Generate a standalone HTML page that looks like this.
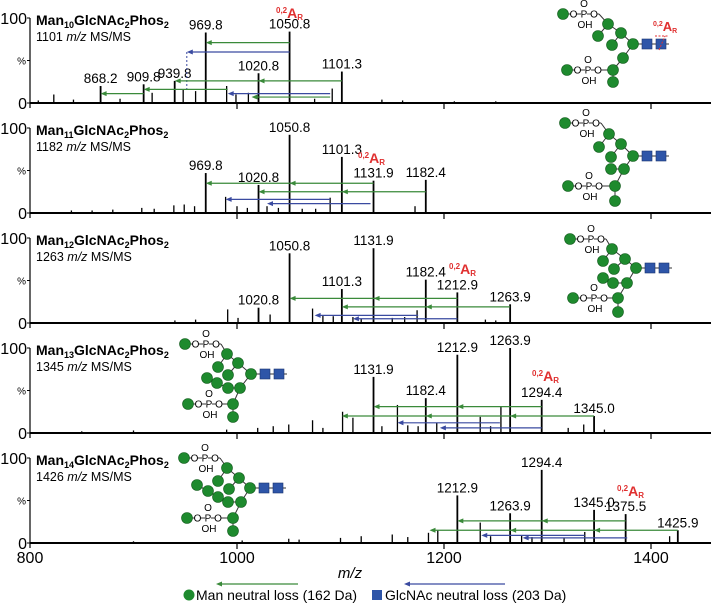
<!DOCTYPE html>
<html><head><meta charset="utf-8">
<style>
html,body{margin:0;padding:0;background:#fff;}
svg{display:block;font-family:"Liberation Sans",sans-serif;}
</style></head>
<body>
<svg id="chart" width="711" height="604" viewBox="0 0 711 604" xmlns="http://www.w3.org/2000/svg"></svg>
<script>
// ---- data ----
const panelTitles = ["10","11","12","13","14"];
const precursorLabels = ["1101","1182","1263","1345","1426"];
const xTickValues = [800, 1000, 1200, 1400];
const xTickLabels = ["800","1000","1200","1400"];
// labelled peaks: [m/z, relative intensity %]
const majorPeaks1 = [[868.2,20],[909.8,22],[939.8,26],[969.8,83],[1020.8,35],[1050.8,84],[1101.3,37]];
const majorPeaks2 = [[969.8,47],[1020.8,33],[1050.8,92],[1101.3,66],[1131.9,38],[1182.4,39]];
const majorPeaks3 = [[1020.8,18],[1050.8,82],[1101.3,40],[1131.9,88],[1182.4,51],[1212.9,36],[1263.9,22]];
const majorPeaks4 = [[1131.9,66],[1182.4,41],[1212.9,92],[1263.9,100],[1294.4,39],[1345.0,20]];
const majorPeaks5 = [[1212.9,56],[1263.9,35],[1294.4,86],[1345.0,39],[1375.5,34],[1425.9,15]];
// unlabelled peaks
const minorPeaks1 = [[808,3],[823,10],[842,4],[887,5],[918,12],[948,16],[960,14],[990,20],[999,10],[1011,12],[1092,17],[1075,5],[1140,4],[1160,3],[1210,2],[1250,2]];
const minorPeaks2 = [[840,3],[860,3],[880,4],[908,6],[920,5],[939,9],[949,10],[959,8],[989,19],[1000,8],[1010,6],[1029,8],[1040,6],[1063,5],[1076,5],[1090,18],[1172,8]];
const minorPeaks3 = [[940,3],[960,4],[991,16],[1001,6],[1032,10],[1073,17],[1083,9],[1093,8],[1112,7],[1120,5],[1150,6],[1162,7],[1174,15],[1240,4],[1250,3]];
const minorPeaks4 = [[850,2],[900,3],[990,4],[1020,6],[1035,8],[1050,10],[1073,15],[1083,6],[1102,25],[1112,18],[1140,8],[1155,33],[1165,9],[1175,8],[1193,12],[1235,19],[1245,8],[1255,31],[1320,6],[1335,10],[1355,4]];
const minorPeaks5 = [[900,2],[1005,3],[1050,5],[1060,4],[1100,6],[1120,8],[1150,10],[1165,7],[1185,12],[1194,15],[1235,24],[1245,8],[1275,9],[1285,7],[1316,6],[1336,13],[1418,8]];
// neutral-loss arrows: [from m/z, to m/z, level %, type]
const arrows1 = [[1050.8,969.8,71,"man"],[1050.8,951.5,60,"glc"],[1101.3,939.8,26,"man"],[991,909.8,16,"man"],[909.8,868.2,11,"man"],[1090,991,11,"glc"],[1090,1014,7,"man"]];
const arrows2 = [[1131.9,969.8,35,"man"],[1182.4,1020.8,25,"man"],[1090,989,16,"glc"],[1129,1029,11,"glc"]];
const arrows3 = [[1212.9,1050.8,29,"man"],[1263.9,1101.3,19,"man"],[1175,1075,9,"glc"],[1212.9,1112,5,"glc"]];
const arrows4 = [[1294.4,1131.9,31,"man"],[1345.0,1101.3,20,"man"],[1254,1155,12,"glc"],[1294.4,1196,6,"glc"]];
const arrows5 = [[1375.5,1212.9,26,"man"],[1425.9,1186,15,"man"],[1336,1236,9,"glc"],[1377,1276,6,"glc"]];
// intermediate arrow heads
const heads1 = [[1101.3,1020.8]];
const heads2 = [[1131.9,1050.8],[1182.4,1101.3]];
const heads3 = [[1212.9,1131.9],[1263.9,1182.4]];
const heads4 = [[1294.4,1212.9],[1345.0,1263.9],[1345.0,1182.4]];
const heads5 = [[1375.5,1294.4],[1425.9,1345.0],[1425.9,1263.9]];
const redLabelPos = [[276,18],[358,163],[449,274],[532,381],[617,496]];

const majorPeaks=[majorPeaks1,majorPeaks2,majorPeaks3,majorPeaks4,majorPeaks5];
const minorPeaks=[minorPeaks1,minorPeaks2,minorPeaks3,minorPeaks4,minorPeaks5];
const arrows=[arrows1,arrows2,arrows3,arrows4,arrows5];
const heads=[heads1,heads2,heads3,heads4,heads5];

// glycan templates (relative to core)
const glycans = [
 {core:[633,44], c:[[-70,-30],[-25,-20],[-35,-8],[-12,-11],[-21,1],[0,0],[-10,14],[-20,26],[-20,38],[-66,26]], e:[[1,2],[1,3],[3,4],[3,5],[5,6],[6,7],[7,8]], p:[[0,1],[9,7]], red:true},
 {core:[633,156], c:[[-68,-33],[-24,-22],[-34,-9],[-12,-12],[-22,1],[0,0],[-9,13],[-22,13],[-18,30],[-18,45],[-65,30]], e:[[1,2],[1,3],[3,4],[3,5],[5,6],[6,7],[6,8],[8,9]], p:[[0,1],[10,8]]},
 {core:[636,268], c:[[-66,-29],[-24,-19],[-33,-7],[-11,-9],[-22,1],[0,0],[-9,15],[-23,15],[-33,10],[-18,30],[-18,44],[-63,30]], e:[[1,2],[1,3],[3,4],[3,5],[5,6],[6,7],[7,8],[6,9],[9,10]], p:[[0,1],[11,9]]},
 {core:[251,374], c:[[-66,-30],[-24,-20],[-33,-7],[-13,-11],[-23,1],[0,0],[-11,14],[-23,14],[-34,9],[-44,4],[-18,30],[-18,43],[-63,30]], e:[[1,2],[1,3],[3,4],[3,5],[5,6],[6,7],[7,8],[8,9],[6,10],[10,11]], p:[[0,1],[12,10]]},
 {core:[250,488], c:[[-66,-30],[-23,-20],[-32,-7],[-11,-10],[-21,1],[0,0],[-9,14],[-22,14],[-32,9],[-42,3],[-53,-3],[-17,30],[-17,43],[-63,30]], e:[[1,2],[1,3],[3,4],[3,5],[5,6],[6,7],[7,8],[8,9],[9,10],[6,11],[11,12]], p:[[0,1],[13,11]]}
];

const NS="http://www.w3.org/2000/svg";
const svg=document.getElementById('chart');
const GREEN="#3a8a3a", BLUE="#3a4aa0";
function xScale(mz){return 237+(mz-1000)*1.035;}
function base(i){return 103+110*i;}
function yScale(i,pct){return base(i)-pct*0.85;}
function mk(tag,attrs,parent){const el=document.createElementNS(NS,tag);for(const k in attrs)el.setAttribute(k,attrs[k]);(parent||svg).appendChild(el);return el;}

for(let i=0;i<5;i++){
  const g=mk('g',{});
  
  
  const yb=base(i), yt=yScale(i,100);
  const ax=mk('line',{x1:30,y1:yb,x2:711,y2:yb,stroke:'#000','stroke-width':2},g);
  
  
  const ay=mk('line',{x1:30,y1:yt,x2:30,y2:yb+5,stroke:'#000','stroke-width':1.2},g);
  
  
  mk('line',{x1:27,y1:yt,x2:30,y2:yt,stroke:'#000','stroke-width':1},g);
  mk('line',{x1:27,y1:(yt+yb)/2,x2:30,y2:(yt+yb)/2,stroke:'#000','stroke-width':1},g);
  mk('line',{x1:27,y1:yb,x2:30,y2:yb,stroke:'#000','stroke-width':1},g);
  for(const v of xTickValues.slice(1)){mk('line',{x1:xScale(v),y1:yb,x2:xScale(v),y2:yb+6,stroke:'#000','stroke-width':1.2},g);}
  const t100=mk('text',{x:27,y:yt+6,'font-size':16,'text-anchor':'end'},g);t100.textContent='100';
  
  
  const tp=mk('text',{x:26,y:(yt+yb)/2+4,'font-size':10,'text-anchor':'end'},g);tp.textContent='%';
  
  
  const t0=mk('text',{x:27,y:yb+6,'font-size':16,'text-anchor':'end'},g);t0.textContent='0';
  
  
  const tt=mk('text',{x:36,y:yt+7,'font-size':14,'font-weight':'bold'},g);
  
  
  tt.innerHTML='Man<tspan dy="3" font-size="9">'+panelTitles[i]+'</tspan><tspan dy="-3">GlcNAc</tspan><tspan dy="3" font-size="9">2</tspan><tspan dy="-3">Phos</tspan><tspan dy="3" font-size="9">2</tspan>';
  const st=mk('text',{x:36,y:yt+23,'font-size':12.5},g);
  
  
  st.innerHTML=precursorLabels[i]+' <tspan font-style="italic">m/z</tspan> MS/MS';
  for(const p of minorPeaks[i]){
    const l=mk('line',{x1:xScale(p[0]),y1:yb,x2:xScale(p[0]),y2:yScale(i,p[1]),stroke:'#000','stroke-width':1.3},g);
    
    
  }
  for(const p of majorPeaks[i]){
    const x=xScale(p[0]), y=yScale(i,p[1]);
    const l=mk('line',{x1:x,y1:yb,x2:x,y2:y,stroke:'#000','stroke-width':1.8},g);
    
    
    const lb=mk('text',{x:x,y:y-3,'font-size':13.5,'text-anchor':'middle'},g);
    lb.textContent=p[0].toFixed(1);
    
    
  }
  for(const a of arrows[i]){
    const col=a[3]==='man'?GREEN:BLUE;
    const x1=xScale(a[0]), x2=xScale(a[1]), y=yScale(i,a[2]);
    const l=mk('line',{x1:x1,y1:y,x2:x2+3,y2:y,stroke:col,'stroke-width':1.2},g);
    
    
    mk('polygon',{points:(x2)+','+y+' '+(x2+6)+','+(y-2.5)+' '+(x2+6)+','+(y+2.5),fill:col},g);
    if(i===0 && a[3]==='glc' && a[2]>50){
      mk('line',{x1:x2,y1:y,x2:x2,y2:yScale(i,14),stroke:BLUE,'stroke-width':1,'stroke-dasharray':'2,2'},g);
    }
  }
  for(const h of heads[i]){
    const a=arrows[i].find(r=>r[0]===h[0]&&r[3]==='man')||arrows[i][0];
    const x=xScale(h[1]), y=yScale(i,a[2]);
    mk('polygon',{points:x+','+y+' '+(x+6)+','+(y-2.5)+' '+(x+6)+','+(y+2.5),fill:GREEN},g);
  }
  const rl=mk('text',{x:redLabelPos[i][0],y:redLabelPos[i][1],fill:'#e03030','font-weight':'bold','font-size':14},g);
  
  
  rl.innerHTML='<tspan font-size="8" dy="-5">0,2</tspan><tspan dy="5">A</tspan><tspan font-size="8" dy="2">R</tspan>';
  const gl=glycans[i];
  const gg=mk('g',{},g);
  
  
  const cx=gl.core[0], cy=gl.core[1];
  const P=gl.c.map(c=>[cx+c[0],cy+c[1]]);
  mk('line',{x1:cx,y1:cy,x2:cx+36,y2:cy,stroke:'#333','stroke-width':1},gg);
  for(const e of gl.e){mk('line',{x1:P[e[0]][0],y1:P[e[0]][1],x2:P[e[1]][0],y2:P[e[1]][1],stroke:'#333','stroke-width':1},gg);}
  for(const ph of gl.p){
    const m=P[ph[0]], t=P[ph[1]];
    mk('line',{x1:m[0],y1:m[1],x2:m[0]+36,y2:m[1],stroke:'#333','stroke-width':1},gg);
    mk('line',{x1:m[0]+36,y1:m[1],x2:t[0],y2:t[1],stroke:'#333','stroke-width':1},gg);
    mk('rect',{x:m[0]+8,y:m[1]-4,width:5,height:8,fill:'#fff'},gg);
    mk('rect',{x:m[0]+18,y:m[1]-4,width:6,height:8,fill:'#fff'},gg);
    mk('rect',{x:m[0]+28,y:m[1]-4,width:6,height:8,fill:'#fff'},gg);
    const o1=mk('text',{x:m[0]+10.5,y:m[1]+3.5,'font-size':10,'text-anchor':'middle'},gg);o1.textContent='O';
    const pp=mk('text',{x:m[0]+21,y:m[1]+3.5,'font-size':10,'text-anchor':'middle'},gg);pp.textContent='P';
    const o2=mk('text',{x:m[0]+31,y:m[1]+3.5,'font-size':10,'text-anchor':'middle'},gg);o2.textContent='O';
    const o3=mk('text',{x:m[0]+21,y:m[1]-7,'font-size':10,'text-anchor':'middle'},gg);o3.textContent='O';
    const oh=mk('text',{x:m[0]+22,y:m[1]+14,'font-size':10,'text-anchor':'middle'},gg);oh.textContent='OH';
  }
  for(const p of P){mk('circle',{cx:p[0],cy:p[1],r:5.5,fill:'#1e8a2e',stroke:'#145c1e','stroke-width':0.6},gg);}
  mk('rect',{x:cx+9,y:cy-5,width:10,height:10,fill:'#2e55a8',stroke:'#1c3470','stroke-width':0.6},gg);
  mk('rect',{x:cx+23,y:cy-5,width:10,height:10,fill:'#2e55a8',stroke:'#1c3470','stroke-width':0.6},gg);
  if(gl.red){
    mk('line',{x1:cx+22,y1:cy-8,x2:cx+36,y2:cy-8,stroke:'#e03030','stroke-width':1,'stroke-dasharray':'2,1.5'},gg);
    mk('line',{x1:cx+26,y1:cy+6,x2:cx+32,y2:cy-8,stroke:'#e03030','stroke-width':1,'stroke-dasharray':'2,1.5'},gg);
    const r2=mk('text',{x:cx+20,y:cy-13,fill:'#e03030','font-weight':'bold','font-size':13},gg);
    r2.innerHTML='<tspan font-size="7" dy="-5">0,2</tspan><tspan dy="5">A</tspan><tspan font-size="7" dy="2">R</tspan>';
  }
}
for(let k=0;k<xTickValues.length;k++){
  const t=mk('text',{x:xScale(xTickValues[k]),y:563,'font-size':16,'text-anchor':'middle'});
  t.textContent=xTickLabels[k];
  
  
}
const xt=mk('text',{x:350,y:578,'font-size':15,'font-style':'italic','text-anchor':'middle'});
xt.textContent='m/z';


const lg=mk('g',{});


mk('line',{x1:298,y1:584,x2:222,y2:584,stroke:GREEN,'stroke-width':1.2},lg);
mk('polygon',{points:'216,584 222,581.5 222,586.5',fill:GREEN},lg);
mk('line',{x1:505,y1:584,x2:410,y2:584,stroke:BLUE,'stroke-width':1.2},lg);
mk('polygon',{points:'404,584 410,581.5 410,586.5',fill:BLUE},lg);
mk('circle',{cx:189,cy:595,r:5.5,fill:'#1e8a2e'},lg);
const l1=mk('text',{x:196,y:600,'font-size':14},lg);l1.textContent='Man neutral loss (162 Da)';


mk('rect',{x:372,y:590,width:10,height:10,fill:'#2e55a8'},lg);
const l2=mk('text',{x:385,y:600,'font-size':14},lg);l2.textContent='GlcNAc neutral loss (203 Da)';


</script>
</body></html>
